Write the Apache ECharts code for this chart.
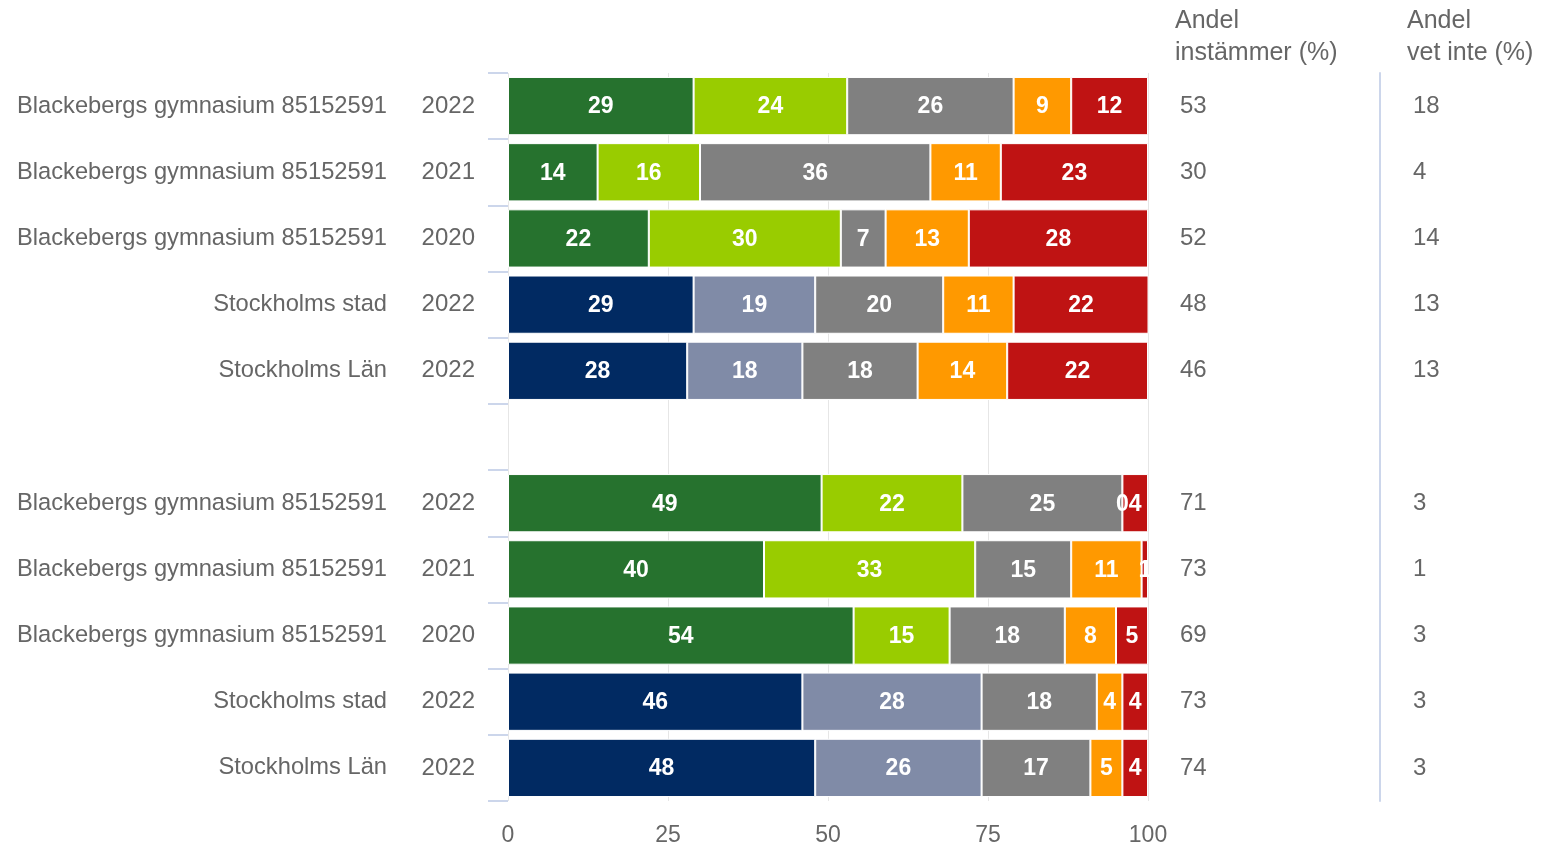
<!DOCTYPE html>
<html>
<head>
<meta charset="utf-8">
<script src="https://cdn.jsdelivr.net/npm/echarts@6/dist/echarts.min.js"></script>
<style>
  html, body { margin: 0; padding: 0; background: #fff; }
  #chart { width: 1555px; height: 846px; }
</style>
</head>
<body>
<div id="chart"></div>
<script>
// rader (tom rad skiljer de två frågorna åt)
var names = ['Blackebergs gymnasium 85152591', 'Blackebergs gymnasium 85152591', 'Blackebergs gymnasium 85152591',
  'Stockholms stad', 'Stockholms Län', '',
  'Blackebergs gymnasium 85152591', 'Blackebergs gymnasium 85152591', 'Blackebergs gymnasium 85152591',
  'Stockholms stad', 'Stockholms Län'];
var years = ['2022', '2021', '2020', '2022', '2022', '', '2022', '2021', '2020', '2022', '2022'];

// staplarnas värden (%)
var helt = [29, 14, 22, 29, 28, null, 49, 40, 54, 46, 48];
var storDel = [24, 16, 30, 19, 18, null, 22, 33, 15, 28, 26];
var delvis = [26, 36, 7, 20, 18, null, 25, 15, 18, 18, 17];
var litenDel = [9, 11, 13, 11, 14, null, 0, 11, 8, 4, 5];
var inteAlls = [12, 23, 28, 22, 22, null, 4, 1, 5, 4, 4];

// kolumnerna till höger
var andelInstammer = ['53', '30', '52', '48', '46', '', '71', '73', '69', '73', '74'];
var andelVetInte = ['18', '4', '14', '13', '13', '', '3', '1', '3', '3', '3'];

var xTicks = [0, 25, 50, 75, 100];

var chart = echarts.init(document.getElementById('chart'));
var font = "'Liberation Sans', Arial, sans-serif";
var textColor = '#666666';

// skolan i grönt, kommun/län i blått
function isRegion(i) {
  return names[i].indexOf('Stockholms') === 0;
}

function makeSeries(name, values, color) {
  return {
    name: name,
    type: 'bar',
    stack: 'total',
    barCategoryGap: '12%',
    xAxisIndex: 0,
    yAxisIndex: 0,
    itemStyle: {
      borderColor: '#ffffff',
      borderWidth: 1,
      color: color
    },
    label: {
      show: true,
      position: 'inside',
      offset: [0, 1],
      color: '#ffffff',
      fontFamily: font,
      fontWeight: 'bold',
      fontSize: 23,
      formatter: function (p) { return p.value; }
    },
    data: values
  };
}

var labelBase = { color: textColor, fontSize: 24, fontFamily: font };

var option = {
  animation: false,
  backgroundColor: '#ffffff',
  textStyle: { fontFamily: font },
  title: [
    {
      text: 'Andel\ninstämmer (%)',
      left: 1170,
      top: 0,
      textStyle: { fontFamily: font, fontSize: 25, fontWeight: 'normal', color: textColor, lineHeight: 32 }
    },
    {
      text: 'Andel\nvet inte (%)',
      left: 1402,
      top: 0,
      textStyle: { fontFamily: font, fontSize: 25, fontWeight: 'normal', color: textColor, lineHeight: 32 }
    }
  ],
  grid: {
    left: 508,
    right: 407,
    top: 73,
    bottom: 45,
    outerBoundsMode: 'none'
  },
  xAxis: {
    type: 'value',
    min: 0,
    max: 100,
    interval: 25,
    axisLine: { show: false },
    axisTick: { show: false },
    splitLine: { show: true, lineStyle: { color: '#e6e6e6', width: 1 } },
    axisLabel: {
      color: textColor,
      fontSize: 23,
      fontFamily: font,
      margin: 23,
      formatter: function (v) { return xTicks.indexOf(v) >= 0 ? String(v) : ''; }
    }
  },
  yAxis: [
    {
      // årtal + streck
      type: 'category',
      position: 'left',
      inverse: true,
      data: years,
      axisLine: { show: false },
      axisTick: { show: true, length: 20, inside: false, lineStyle: { color: '#ccd6eb', width: 2 } },
      axisLabel: Object.assign({ margin: 33 }, labelBase)
    },
    {
      // namn
      type: 'category',
      position: 'left',
      offset: 88,
      inverse: true,
      data: names,
      axisLine: { show: false },
      axisTick: { show: false },
      axisLabel: Object.assign({ margin: 33 }, labelBase, { fontSize: 23.7 })
    },
    {
      type: 'category',
      position: 'right',
      inverse: true,
      data: andelInstammer,
      axisLine: { show: false },
      axisTick: { show: false },
      axisLabel: Object.assign({ margin: 32 }, labelBase)
    },
    {
      type: 'category',
      position: 'right',
      offset: 232,
      inverse: true,
      data: andelVetInte,
      axisLine: { show: true, lineStyle: { color: '#ccd6eb', width: 2 } },
      axisTick: { show: false },
      axisLabel: Object.assign({ margin: 33 }, labelBase)
    }
  ],
  series: [
    makeSeries('Instämmer helt', helt, function (p) {
      return isRegion(p.dataIndex) ? '#012a62' : '#26722e';
    }),
    makeSeries('Instämmer till stor del', storDel, function (p) {
      return isRegion(p.dataIndex) ? '#808ba7' : '#99cc00';
    }),
    makeSeries('Instämmer delvis', delvis, '#808080'),
    makeSeries('Instämmer till liten del', litenDel, '#ff9900'),
    makeSeries('Instämmer inte alls', inteAlls, '#bf1313')
  ]
};

chart.setOption(option);
</script>
</body>
</html>
